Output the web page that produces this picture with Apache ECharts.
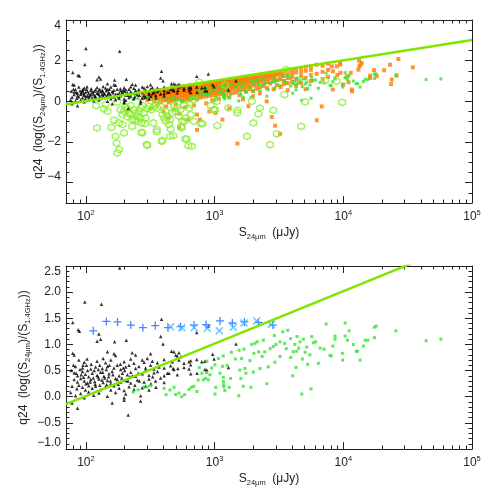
<!DOCTYPE html>
<html>
<head>
<meta charset="utf-8">
<script src="https://cdn.jsdelivr.net/npm/echarts@6/dist/echarts.min.js"></script>
<style>
html, body { margin: 0; padding: 0; background: #fff; }
#chart { width: 491px; height: 491px; }
</style>
</head>
<body>
<div id="chart"></div>
<script>
// x range (S24um, uJy) and y ranges of the two panels
const xRange = [70, 100000];
const yTopRange = [-5, 4];
const yBotRange = [-1, 2.5];

// tick positions
const xMajor = [100, 1000, 10000, 100000];
const xMinor = [80, 90, 200, 300, 400, 500, 600, 700, 800, 900, 2000, 3000, 4000, 5000, 6000, 7000, 8000, 9000,
  20000, 30000, 40000, 50000, 60000, 70000, 80000, 90000];
const yTopMajor = [-4, -2, 0, 2, 4];
const yTopMinor = [-5, -4.5, -3.5, -3, -2.5, -1.5, -1, -0.5, 0.5, 1, 1.5, 2.5, 3, 3.5];
const yBotMajor = [-1, -0.5, 0, 0.5, 1, 1.5, 2, 2.5];
const yBotMinor = [-0.9, -0.8, -0.7, -0.6, -0.4, -0.3, -0.2, -0.1, 0.1, 0.2, 0.3, 0.4, 0.6, 0.7, 0.8, 0.9,
  1.1, 1.2, 1.3, 1.4, 1.6, 1.7, 1.8, 1.9, 2.1, 2.2, 2.3, 2.4];

// q24 = log10(S) - const reference line
const refLine = [[70, -0.14], [100000, 3.02]];

// black triangles (same sample in both panels)
const blackPts = [
  [100,2.6],[183,2.46],[98,1.81],[132,1.77],[79,1.42],[87,1.28],[89,1.25],[126,1.2],[122,1.06],[130,1.1],
  [167,1.05],[206,1.08],[387,1.48],[381,1.15],[397,1.01],[726,1.23],[893,1.35],[1466,1.01],
  [79,0.83],[81,0.8],[147,0.86],[165,0.82],[170,0.79],[229,0.84],[243,0.8],[318,0.82],[483,0.86],[498,0.8],[528,0.84],
  [88,0.7],[97,0.66],[102,0.72],[122,0.68],[136,0.73],[142,0.65],[156,0.7],[198,0.67],[223,0.72],[236,0.64],
  [274,0.7],[283,0.66],[300,0.73],[328,0.68],[359,0.65],[405,0.71],[469,0.67],[528,0.7],[578,0.64],[652,0.69],
  [83,0.58],[94,0.55],[101,0.6],[109,0.53],[119,0.57],[128,0.6],[134,0.54],[147,0.58],[165,0.55],[175,0.6],
  [186,0.52],[204,0.57],[216,0.6],[243,0.54],[258,0.58],[291,0.55],[318,0.6],[338,0.53],[370,0.57],[405,0.55],
  [455,0.59],[483,0.52],[578,0.56],[632,0.53],
  [81,0.46],[86,0.4],[94,0.48],[99,0.43],[105,0.38],[112,0.45],[122,0.41],[130,0.47],[138,0.39],[151,0.44],
  [160,0.48],[181,0.4],[192,0.45],[210,0.42],[223,0.47],[243,0.39],[274,0.44],[309,0.41],[338,0.46],[405,0.4],
  [442,0.45],[513,0.42],[652,0.44],
  [81,0.33],[86,0.28],[91,0.35],[97,0.3],[103,0.26],[109,0.33],[117,0.29],[126,0.34],[136,0.27],[147,0.31],
  [156,0.25],[175,0.33],[186,0.28],[204,0.31],[223,0.26],[251,0.32],[283,0.28],[309,0.34],[348,0.3],[405,0.27],
  [78,0.2],[85,0.15],[88,0.22],[94,0.18],[99,0.13],[105,0.21],[112,0.16],[119,0.2],[130,0.14],[142,0.19],
  [156,0.13],[165,0.21],[181,0.16],[198,0.12],[216,0.19],[236,0.14],[274,0.17],[309,0.13],
  [76,0.08],[83,0.02],[91,0.06],[97,-0.02],[105,0.09],[115,0.03],[126,0.07],[147,0.01],[170,0.08],[198,-0.02],
  [204,0.05],[266,0.02],[78,-0.12],[86,-0.22],[160,-0.12],[198,-0.07],[266,-0.08],[213,-0.35],
  [462,0.87],[513,0.78],[548,0.77],[476,0.54],[518,0.54],[632,0.67],[652,0.61],[730,0.45],[870,0.51],[795,0.67],
  [430,0.45],[966,0.81],[841,0.68],[990,0.72],[841,0.52],[1280,0.56],[726,0.71],
  [92,0.42],[96,0.37],[100,0.25],[108,0.28],[114,0.36],[118,0.24],[124,0.38],[128,0.22],[133,0.32],[140,0.36],
  [145,0.23],[150,0.38],[155,0.3],[162,0.42],[170,0.35],[178,0.24],[190,0.36],[200,0.5],[212,0.3],[230,0.4],
  [255,0.45],[290,0.5],[330,0.38],[360,0.48],[380,0.36],
  [77,0.5],[80,0.6],[84,0.45],[90,0.52],[95,0.6],[103,0.5],[110,0.62],[116,0.5],[125,0.52],[135,0.47],
  [144,0.52],[152,0.6],[185,0.62],[195,0.55],[220,0.38],[240,0.22],[260,0.3],[290,0.2],[320,0.25],[350,0.18]
];

// orange points (upper panel only)
const orangePts = [
  [280,0.42],[280,0.3],[280,0.15],[300,0.45],[300,0.35],[300,0.22],[300,0.05],
  [320,0.48],[320,0.4],[320,0.28],[320,0.12],[320,-0.35],[340,0.5],[340,0.42],[340,0.33],[340,0.2],[340,0.02],
  [360,0.53],[360,0.45],[360,0.36],[360,0.25],[360,0.1],[360,-0.15],[380,0.55],[380,0.47],[380,0.38],[380,0.28],[380,0.15],[380,-0.05],
  [400,0.57],[400,0.5],[400,0.41],[400,0.32],[400,0.2],[400,0.05],[400,-0.5],
  [420,0.6],[420,0.52],[420,0.44],[420,0.35],[420,0.24],[420,0.1],[420,-0.25],
  [440,0.61],[440,0.55],[440,0.46],[440,0.37],[440,0.27],[440,0.14],[440,-0.05],[440,-0.8],
  [460,0.63],[460,0.56],[460,0.48],[460,0.4],[460,0.3],[460,0.18],[460,0.02],
  [480,0.65],[480,0.58],[480,0.5],[480,0.41],[480,0.32],[480,0.21],[480,0.08],[480,-0.4],
  [500,0.67],[500,0.6],[500,0.52],[500,0.44],[500,0.35],[500,0.24],[500,0.12],[500,-0.15],
  [530,0.69],[530,0.62],[530,0.54],[530,0.46],[530,0.37],[530,0.27],[530,0.15],[530,-0.6],[530,-1.3],
  [560,0.71],[560,0.64],[560,0.57],[560,0.48],[560,0.4],[560,0.3],[560,0.18],[560,0.02],
  [590,0.73],[590,0.66],[590,0.59],[590,0.51],[590,0.42],[590,0.32],[590,0.2],[590,-0.3],
  [620,0.76],[620,0.68],[620,0.61],[620,0.53],[620,0.44],[620,0.35],[620,0.23],[620,0.08],[620,-0.9],
  [650,0.78],[650,0.7],[650,0.62],[650,0.55],[650,0.46],[650,0.37],[650,0.26],[650,0.12],
  [690,0.8],[690,0.72],[690,0.65],[690,0.57],[690,0.48],[690,0.39],[690,0.28],[690,0.15],[690,-0.2],
  [730,0.82],[730,0.75],[730,0.67],[730,0.59],[730,0.51],[730,0.42],[730,0.31],[730,0.1],[730,-0.65],[730,-1.4],
  [770,0.84],[770,0.77],[770,0.69],[770,0.61],[770,0.53],[770,0.44],[770,0.33],[770,0.18],[770,-0.9],
  [810,0.86],[810,0.79],[810,0.71],[810,0.63],[810,0.55],[810,0.46],[810,0.36],[810,0.22],
  [860,0.88],[860,0.81],[860,0.73],[860,0.65],[860,0.57],[860,0.48],[860,0.38],[860,0.25],[860,-0.1],
  [910,0.91],[910,0.83],[910,0.75],[910,0.67],[910,0.59],[910,0.5],[910,0.4],[910,0.28],[910,-0.5],
  [960,0.93],[960,0.85],[960,0.77],[960,0.69],[960,0.61],[960,0.52],[960,0.42],[960,0.3],[960,0.05],
  [1020,0.95],[1020,0.88],[1020,0.8],[1020,0.71],[1020,0.63],[1020,0.54],[1020,0.44],[1020,0.32],[1020,-0.57],
  [1080,0.97],[1080,0.9],[1080,0.82],[1080,0.73],[1080,0.65],[1080,0.56],[1080,0.46],[1080,0.34],[1080,0.12],
  [1150,1.0],[1150,0.92],[1150,0.84],[1150,0.76],[1150,0.67],[1150,0.58],[1150,0.48],[1150,0.36],[1150,-0.9],
  [1220,1.02],[1220,0.94],[1220,0.86],[1220,0.78],[1220,0.69],[1220,0.6],[1220,0.5],[1220,0.3],
  [1300,1.05],[1300,0.97],[1300,0.88],[1300,0.8],[1300,0.71],[1300,0.62],[1300,0.45],[1300,0.2],[1300,-0.35],
  [1380,1.07],[1380,0.99],[1380,0.9],[1380,0.82],[1380,0.73],[1380,0.6],[1380,0.4],
  [1470,1.1],[1470,1.01],[1470,0.93],[1470,0.84],[1470,0.75],[1470,0.62],[1470,0.45],[1503,-2.08],
  [1560,1.12],[1560,1.04],[1560,0.95],[1560,0.86],[1560,0.72],[1560,0.55],[1560,0.3],
  [1660,1.15],[1660,1.06],[1660,0.97],[1660,0.88],[1660,0.74],[1660,0.58],[1660,0.1],
  [1760,1.17],[1760,1.08],[1760,0.99],[1760,0.85],[1760,0.7],[1760,0.48],[1830,-0.24],
  [1870,1.2],[1870,1.11],[1870,1.01],[1870,0.9],[1870,0.76],[1870,0.6],
  [1990,1.23],[1990,1.13],[1990,1.03],[1990,0.92],[1990,0.78],[1990,0.52],[1990,0.25],
  [2120,1.25],[2120,1.15],[2120,1.05],[2120,0.94],[2120,0.8],[2120,0.62],
  [2250,1.28],[2250,1.18],[2250,1.07],[2250,0.96],[2250,0.7],[2250,0.4],
  [2400,1.3],[2400,1.2],[2400,1.08],[2400,0.92],[2400,0.75],[2540,0.0],
  [2550,1.33],[2550,1.22],[2550,1.1],[2550,0.95],[2550,0.65],
  [2700,1.35],[2700,1.24],[2700,1.12],[2700,0.88],[2780,-0.77],
  [2880,1.38],[2880,1.26],[2880,1.14],[2880,0.98],[2880,0.6],[2950,-1.2],
  [3050,1.4],[3050,1.28],[3050,1.05],[3050,0.8],[3228,-1.6],
  [3250,1.43],[3250,1.3],[3250,1.1],[3250,0.7],
  [3450,1.45],[3450,1.25],[3450,1.0],[3450,0.85],
  [3700,1.5],[3700,1.32],[3700,1.15],[3700,0.9],[3700,0.55],
  [4000,1.55],[4000,1.38],[4000,1.2],[4000,0.95],[4300,1.6],[4300,1.42],[4300,1.1],[4300,0.75],
  [4700,1.65],[4700,1.45],[4700,1.25],[4700,0.9],[5100,1.7],[5100,1.5],[5100,1.15],[5100,0.6],
  [5600,1.73],[5600,1.55],[5600,1.3],[5600,1.0],[6200,1.8],[6200,1.35],[6220,-0.93],
  [6900,1.75],[6900,1.45],[6900,1.1],[6800,-0.25],[7600,1.85],[7600,1.55],[7600,1.2],
  [8130,1.72],[8300,1.48],[8280,0.58],[8890,1.72],[9000,1.3],[9440,1.92],[9440,1.8],[9500,1.4],
  [10000,0.82],[10650,1.23],[10970,0.94],[11430,1.4],[11640,0.58],[11700,0.49],
  [13100,1.56],[13330,1.72],[13600,1.8],[13900,1.89],[13270,2.0],[16140,1.26],[16160,1.15],
  [17340,1.53],[18200,1.23],[20750,1.53],[23100,1.8],[23500,0.85],[23800,1.07],[26000,1.28],
  [26800,2.08],[34700,1.67]
];

// small green squares (same sample in both panels)
const greenPts = [
  [233,0.09],[254,0.13],[283,0.18],[300,0.19],[318,0.21],
  [405,0.16],[420,0.04],[450,0.13],[483,0.18],[498,0.04],[528,0.07],[555,0.0],[585,0.04],[632,0.14],[660,0.18],
  [690,0.2],[730,0.1],[745,0.32],[760,0.56],[795,0.45],[850,0.35],[870,0.68],
  [816,0.32],[866,0.46],[893,0.32],[920,0.42],[1007,0.05],[1020,0.18],[1007,0.61],[1070,0.73],[1150,0.58],
  [1166,0.78],[1170,0.37],[1170,0.29],[1175,0.23],[1180,0.19],[1330,0.35],[1540,0.02],[1570,0.51],[1550,0.89],
  [1620,0.73],[1670,0.2],[1690,0.91],[1720,0.54],[1880,0.69],[1910,0.18],[1940,1.0],[2000,0.47],[2020,0.83],
  [2060,1.02],[2140,1.05],[2250,0.54],[2340,0.77],[2390,1.08],[2540,0.25],[2610,0.57],[2860,0.96],[2910,1.17],
  [2940,0.66],[3220,1.05],[3220,0.77],[3380,1.24],[3700,1.27],[3890,1.11],[4040,0.4],[4090,0.86],[4290,0.56],
  [4340,0.87],[4370,1.15],[4610,1.05],[4750,0.05],[4900,1.1],[5050,0.85],[5280,0.62],[5610,0.15],[5680,1.15],
  [5850,1.03],[6400,0.64],[7080,0.91],[7350,1.39],[7890,0.79],[8040,0.78],[8280,0.97],[8630,1.16],[8630,1.1],
  [9840,0.83],[9890,0.7],[10330,1.41],[10330,1.16],[10770,1.08],[11090,1.26],[11970,1.0],[12600,0.87],
  [12900,0.87],[13500,0.7],[14320,0.97],[14800,1.08],[15500,1.08],[17400,1.33],[18000,1.35],[17460,1.13],
  [25600,1.26],[44000,1.07],[57300,1.1],
  [2200,0.86],[2450,0.86],[2700,0.92],[3000,1.0],[3500,1.02],[3600,0.92],[3900,0.75],[4200,1.0],[4500,0.93],
  [4800,0.72],[5200,0.95],[5500,0.8],[6100,1.05],[6600,0.93],[1350,0.85],[1450,0.72],[1250,0.6],[1100,0.45],
  [950,0.55],[1200,0.12],[1300,0.18],[1750,0.45],[1600,0.35]
];

// open hexagons (upper panel only)
const hexPts = [
  [120,-0.21],[142,-0.16],[138,-0.37],[147,-0.49],[122,-1.31],[175,-0.05],[186,-0.41],[198,-0.49],[192,-0.65],
  [210,-0.37],[216,-0.57],[223,-0.65],[236,-0.41],[243,-0.57],[251,-0.74],[258,-0.49],[266,-0.33],[229,-0.9],
  [240,-0.9],[251,-0.98],[165,-0.93],[158,-1.28],[181,-1.06],[192,-1.14],[198,-1.55],[170,-1.72],[173,-2.05],
  [181,-2.37],[175,-2.54],[274,-1.55],[296,-2.13],[288,-1.1],[334,-1.06],[309,-0.24],[323,-0.41],[338,-0.24],
  [348,-0.08],[359,-0.33],[376,-0.21],[393,-0.65],[417,-0.49],[405,-0.82],[430,-0.73],[450,-0.9],[442,-1.14],
  [455,-1.36],[393,-1.92],[477,-1.69],[551,-1.23],[607,-1.85],[625,-2.18],[664,-2.21],[560,-0.98],[528,-0.73],
  [542,-0.41],[578,-0.21],[513,-0.28],[498,-0.49],[483,-0.24],[469,-0.57],[632,-0.33],[652,-0.65],[600,-0.82],
  [690,-0.98],[780,-1.1],[204,-0.28],[223,-0.21],[283,-0.57],[291,-0.82],[266,-0.82],[270,-1.06],[229,-1.23],
  [210,-0.77],[274,-0.21],[300,-0.37],
  [760,0.95],[1205,0.79],[684,0.08],[643,-0.16],[933,-0.21],[1007,-0.41],[1038,0.0],[1280,-0.32],[1510,-0.44],
  [1945,0.0],[2250,-0.33],[2190,-0.62],[2860,-0.44],[3490,0.33],[3590,1.56],[5050,-0.03],[7210,1.02],[8890,0.99],
  [9800,-0.05],[4700,-1.23],[3040,-1.6],[2700,-2.13],[1780,-1.72],[2000,-1.06],[1500,-0.57],[1050,-1.2],
  [807,-1.1],[978,-0.41],[590,-1.85],[555,-1.31],[582,-0.98],[450,-1.72],[388,-1.97],[355,-1.39],[355,-1.5],
  [417,-0.98],[300,-2.16],[271,-1.52]
];

// blue plus and light-blue cross (lower panel only)
const plusS = [114, 144, 176, 223, 277, 346, 434, 545, 692, 858, 1102, 1373, 1703, 2188, 2833];
const plusQ = [1.26, 1.44, 1.43, 1.37, 1.32, 1.36, 1.32, 1.34, 1.37, 1.38, 1.45, 1.41, 1.43, 1.42, 1.37];
const crossS = [455, 555, 692, 877, 1088, 1397, 1693, 2125, 2761];
const crossQ = [1.34, 1.32, 1.32, 1.31, 1.26, 1.33, 1.41, 1.45, 1.38];

const FONT = '"Liberation Sans", Arial, sans-serif';
const INK = '#222';
const HEX = 'path://M5,0 L9.33,2.5 L9.33,7.5 L5,10 L0.67,7.5 L0.67,2.5 Z';
const PLUS = 'path://M4.2,0H5.8V4.2H10V5.8H5.8V10H4.2V5.8H0V4.2H4.2Z';
const CROSS = 'path://M1.2,0L5,3.8L8.8,0L10,1.2L6.2,5L10,8.8L8.8,10L5,6.2L1.2,10L0,8.8L3.8,5L0,1.2Z';

const chart = echarts.init(document.getElementById('chart'));

const nameRich = {
  n: { fontSize: 12, fontFamily: FONT, color: INK, lineHeight: 17 },
  s: { fontSize: 7.5, fontFamily: FONT, color: INK, lineHeight: 8, verticalAlign: 'bottom' }
};

// one axis per tick set: major (long ticks, labels) and minor (short ticks only)
function xAxis(grid, bottom, major) {
  const ax = {
    type: 'log', logBase: 10, gridIndex: grid, position: bottom ? 'bottom' : 'top',
    min: xRange[0], max: xRange[1],
    axisLine: { show: major, onZero: false, lineStyle: { color: INK, width: 1 } },
    axisTick: { show: true, inside: true, length: major ? 7 : 3.5, lineStyle: { color: INK },
                customValues: major ? xMajor : xMinor },
    splitLine: { show: false },
    axisLabel: { show: false }
  };
  if (major && bottom) {
    ax.axisLabel = {
      show: true, margin: 6, customValues: xMajor,
      formatter: v => '{b|10}{p|' + Math.round(Math.log10(v)) + '}',
      rich: {
        b: { fontSize: 12, fontFamily: FONT, color: INK, lineHeight: 15 },
        p: { fontSize: 7.5, fontFamily: FONT, color: INK, lineHeight: 9, verticalAlign: 'top' }
      }
    };
    ax.name = '{n|S}{s|24μm}{n|  (μJy)}';
    ax.nameLocation = 'middle';
    ax.nameGap = 21;
    ax.nameTextStyle = { rich: nameRich };
  }
  return ax;
}

function yAxis(grid, left, major, range, majorTicks, minorTicks, digits, gap) {
  const ax = {
    type: 'value', gridIndex: grid, position: left ? 'left' : 'right',
    min: range[0], max: range[1],
    axisLine: { show: major, onZero: false, lineStyle: { color: INK, width: 1 } },
    axisTick: { show: true, inside: true, length: major ? 7 : 3.5, lineStyle: { color: INK },
                customValues: major ? majorTicks : minorTicks },
    splitLine: { show: false },
    axisLabel: { show: false }
  };
  if (major && left) {
    ax.axisLabel = {
      show: true, fontSize: 12, fontFamily: FONT, color: INK, margin: 5, customValues: majorTicks,
      verticalAlignMaxLabel: 'top', verticalAlignMinLabel: 'bottom',
      formatter: v => (v < 0 ? '\u2212' : '') + Math.abs(v).toFixed(digits)
    };
    ax.name = '{n|q24  (log((S}{s|24μm}{n|)/(S}{s|1.4GHz}{n|))}';
    ax.nameLocation = 'middle';
    ax.nameGap = gap;
    ax.nameMoveOverlap = false;
    ax.nameTextStyle = { rich: nameRich };
  }
  return ax;
}

function scatter(data, xi, yi, symbol, size, style) {
  return { type: 'scatter', xAxisIndex: xi, yAxisIndex: yi, data: data, symbol: symbol,
           symbolSize: size, itemStyle: style, silent: true };
}

// x axes: 0-3 upper panel, 4-7 lower panel; y axes likewise
const xAxes = [], yAxes = [];
[0, 1].forEach(g => {
  xAxes.push(xAxis(g, true, true), xAxis(g, true, false), xAxis(g, false, true), xAxis(g, false, false));
});
yAxes.push(
  yAxis(0, true, true, yTopRange, yTopMajor, yTopMinor, 0, 19), yAxis(0, true, false, yTopRange, yTopMajor, yTopMinor, 0),
  yAxis(0, false, true, yTopRange, yTopMajor, yTopMinor, 0), yAxis(0, false, false, yTopRange, yTopMajor, yTopMinor, 0),
  yAxis(1, true, true, yBotRange, yBotMajor, yBotMinor, 1, 34), yAxis(1, true, false, yBotRange, yBotMajor, yBotMinor, 1),
  yAxis(1, false, true, yBotRange, yBotMajor, yBotMinor, 1), yAxis(1, false, false, yBotRange, yBotMajor, yBotMinor, 1)
);

chart.setOption({
  animation: false,
  backgroundColor: '#fff',
  grid: [
    { left: 66, top: 20, width: 406, height: 183 },
    { left: 66, top: 266, width: 406, height: 183 }
  ],
  xAxis: xAxes,
  yAxis: yAxes,
  series: [
    scatter(orangePts, 0, 0, 'rect', 4, { color: '#ff7c00' }),
    scatter(greenPts, 0, 0, 'rect', 3, { color: '#2ee62e' }),
    scatter(hexPts, 0, 0, HEX, 6.5, { color: 'rgba(0,0,0,0)', borderColor: '#8aee30', borderWidth: 1.4 }),
    scatter(blackPts, 0, 0, 'triangle', 3.5, { color: '#000' }),
    { type: 'line', xAxisIndex: 0, yAxisIndex: 0, data: refLine, showSymbol: false,
      lineStyle: { color: '#80e600', width: 2.5 }, silent: true },

    scatter(blackPts, 4, 4, 'triangle', 3.5, { color: '#000' }),
    scatter(greenPts, 4, 4, 'rect', 3, { color: '#2ee62e' }),
    { type: 'line', xAxisIndex: 4, yAxisIndex: 4, data: refLine, showSymbol: false,
      lineStyle: { color: '#80e600', width: 2.5 }, silent: true },
    scatter(plusS.map((s, i) => [s, plusQ[i]]), 4, 4, PLUS, 8, { color: '#1f64ff' }),
    scatter(crossS.map((s, i) => [s, crossQ[i]]), 4, 4, CROSS, 8, { color: '#38b4ff' })
  ]
});
</script>
</body>
</html>
